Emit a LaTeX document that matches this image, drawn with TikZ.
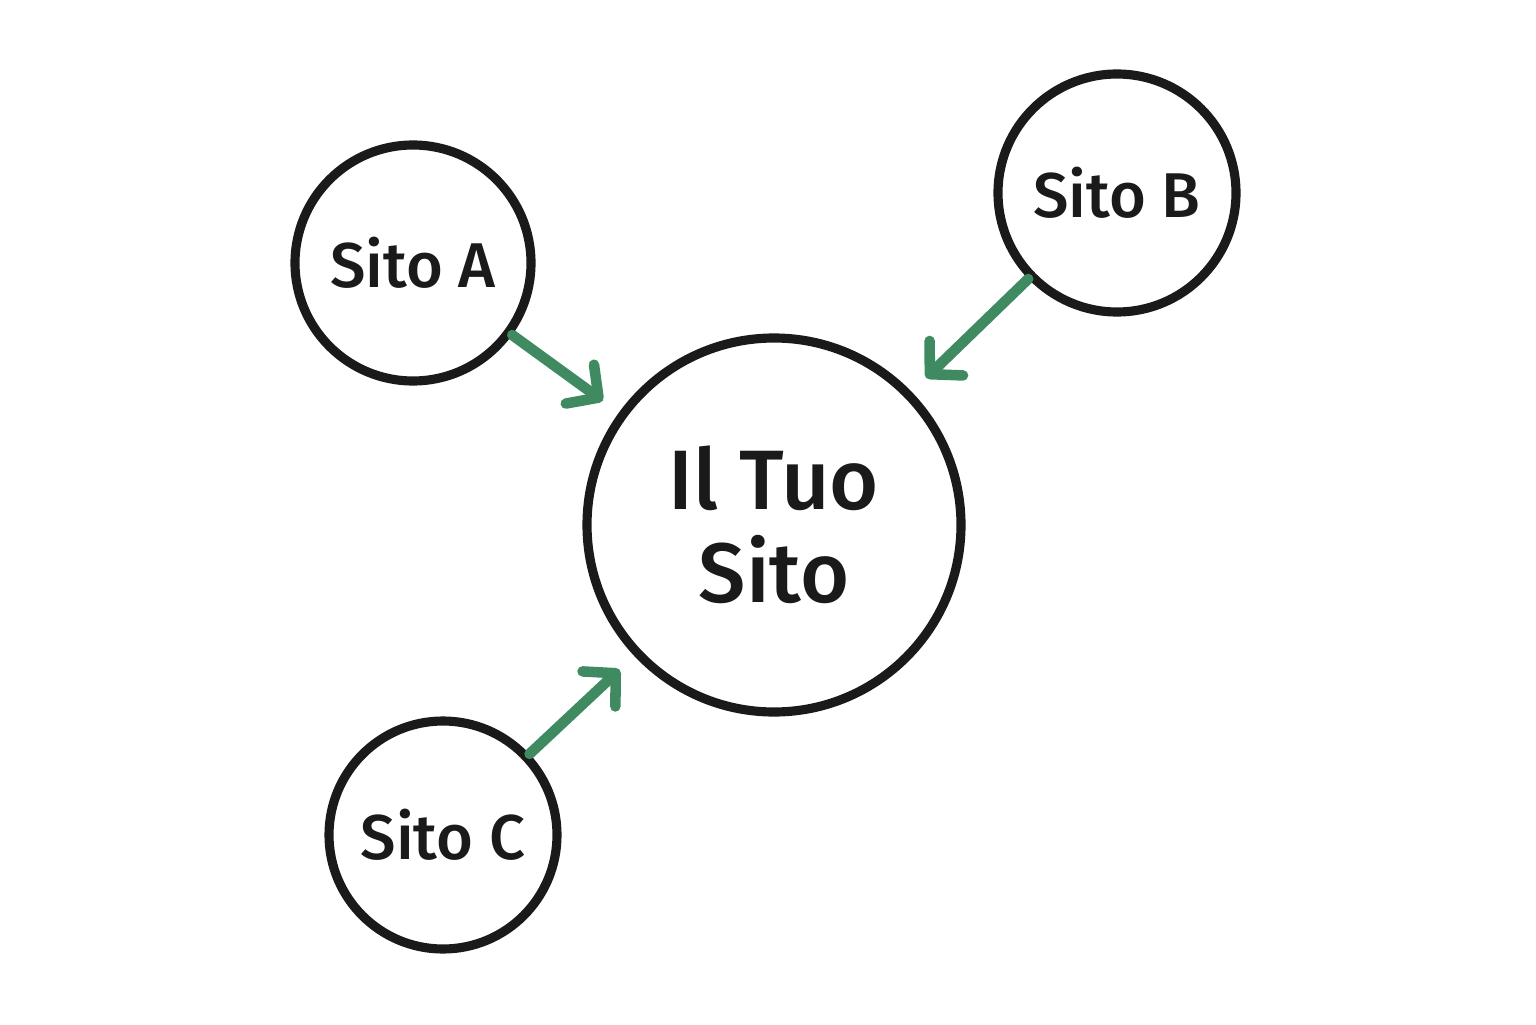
\documentclass[tikz,border=0pt]{standalone}
\usepackage{fontspec}
\setmainfont{Fira Sans}[BoldFont={Fira Sans Medium}]
\usetikzlibrary{arrows.meta}
\definecolor{linkgreen}{RGB}{64,138,98}
\definecolor{ink}{RGB}{26,26,26}
\tikzset{
  site/.style={draw=ink, circle, line width=2.6pt, inner sep=0pt, font=\bfseries\fontsize{18}{20}\selectfont, text=ink},
  link/.style={draw=linkgreen, line width=3pt, line cap=round, shorten >=0.2cm, -{Straight Barb[round, length=2.3mm, width=4.8mm]}}
}
\begin{document}
\begin{tikzpicture}
\useasboundingbox (0,0) rectangle (15.36,10.24);
\node[site, minimum size=3.74cm, align=center, font=\bfseries\fontsize{24}{26.5}\selectfont] (main) at (7.74,4.99) {Il Tuo\\Sito};
\node[site, minimum size=2.36cm] (A) at (4.13,7.61) {Sito A};
\node[site, minimum size=2.38cm] (B) at (11.17,8.31) {Sito B};
\node[site, minimum size=2.28cm] (C) at (4.43,1.89) {Sito C};

\path[link] (A) -- (main);
\path[link] (B) -- (main);
\path[link] (C) -- (main);

\end{tikzpicture}
\end{document}
